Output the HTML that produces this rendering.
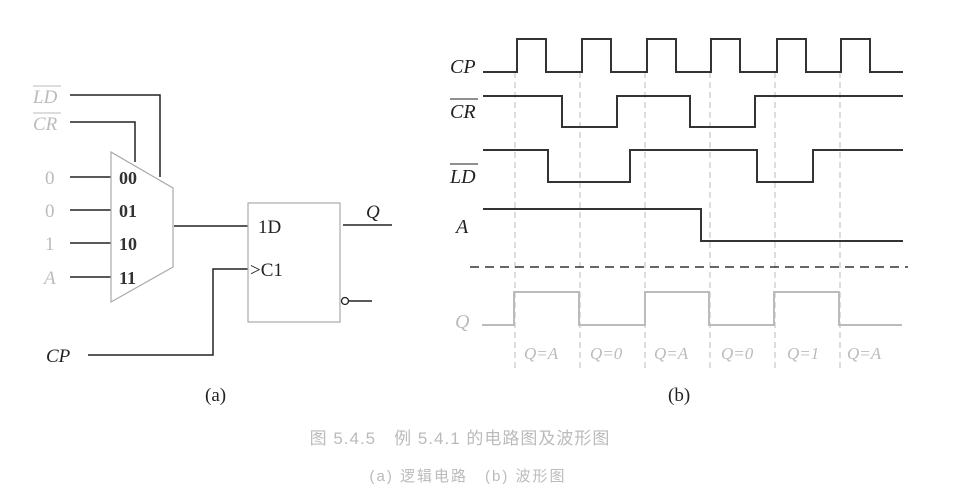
<!DOCTYPE html>
<html><head><meta charset="utf-8"><style>
html,body{margin:0;padding:0;background:#fff;}
svg{display:block;font-family:"Liberation Serif","Noto Serif CJK SC",serif;}
</style></head><body>
<svg width="954" height="502" viewBox="0 0 954 502" xmlns="http://www.w3.org/2000/svg">
<g fill="none" stroke="#222" stroke-width="1.5">
<polyline points="70,95 160,95 160,177"/>
<polyline points="70,122 135,122 135,162"/>
<line x1="70" y1="177" x2="111" y2="177"/>
<line x1="70" y1="210" x2="111" y2="210"/>
<line x1="70" y1="243" x2="111" y2="243"/>
<line x1="70" y1="277" x2="111" y2="277"/>
<line x1="174" y1="226" x2="248" y2="226"/>
<line x1="343" y1="225" x2="392" y2="225"/>
<line x1="349" y1="301" x2="372" y2="301"/>
<polyline points="88,355 213,355 213,269 248,269"/>
</g>
<polygon points="111,152 173,188 173,267 111,302" fill="none" stroke="#aaa" stroke-width="1.2"/>
<rect x="248" y="203" width="92" height="119" fill="none" stroke="#aaa" stroke-width="1.2"/>
<circle cx="345" cy="301" r="3.5" fill="#fff" stroke="#222" stroke-width="1.3"/>
<g font-size="19" fill="#bbb" font-style="italic">
<text x="33" y="103">LD</text><line x1="33" y1="86" x2="61" y2="86" stroke="#bbb"/>
<text x="33" y="130">CR</text><line x1="33" y1="113" x2="61" y2="113" stroke="#bbb"/>
<text x="45" y="184" font-style="normal">0</text>
<text x="45" y="217" font-style="normal">0</text>
<text x="45" y="250" font-style="normal">1</text>
<text x="44" y="284">A</text>
</g>
<g font-size="18" font-weight="bold" fill="#333">
<text x="119" y="184">00</text><text x="119" y="217">01</text><text x="119" y="250">10</text><text x="119" y="284">11</text>
</g>
<g font-size="19" fill="#222">
<text x="258" y="233">1D</text>
<text x="250" y="276">&gt;C1</text>
<text x="366" y="218" font-style="italic">Q</text>
<text x="46" y="362" font-style="italic">CP</text>
<text x="205" y="401">(a)</text>
<text x="668" y="401">(b)</text>
</g>
<g stroke="#bbb" stroke-width="1" stroke-dasharray="6,4">
<line x1="515" y1="72" x2="515" y2="372"/><line x1="580" y1="72" x2="580" y2="372"/>
<line x1="645" y1="72" x2="645" y2="372"/><line x1="710" y1="72" x2="710" y2="372"/>
<line x1="775" y1="72" x2="775" y2="372"/><line x1="840" y1="72" x2="840" y2="372"/>
</g>
<g fill="none" stroke="#333" stroke-width="2">
<polyline points="483,72 517,72 517,39 546,39 546,72 582,72 582,39 611,39 611,72 647,72 647,39 676,39 676,72 711,72 711,39 740,39 740,72 777,72 777,39 806,39 806,72 841,72 841,39 870,39 870,72 903,72"/>
<polyline points="483,96 562,96 562,127 617,127 617,96 690,96 690,127 755,127 755,96 903,96"/>
<polyline points="483,150 548,150 548,182 630,182 630,150 757,150 757,182 813,182 813,150 903,150"/>
<polyline points="483,209 701,209 701,241 903,241"/>
</g>
<line x1="470" y1="267" x2="908" y2="267" stroke="#333" stroke-width="1.5" stroke-dasharray="9,6"/>
<polyline points="482,325 514,325 514,292 579,292 579,325 645,325 645,292 709,292 709,325 774,325 774,292 839,292 839,325 902,325" fill="none" stroke="#bbb" stroke-width="2"/>
<g font-size="20" font-style="italic" fill="#222">
<text x="450" y="73">CP</text>
<text x="450" y="118">CR</text><line x1="450" y1="99" x2="478" y2="99" stroke="#222"/>
<text x="450" y="183">LD</text><line x1="450" y1="164" x2="478" y2="164" stroke="#222"/>
<text x="456" y="233">A</text>
<text x="455" y="328" fill="#bbb">Q</text>
</g>
<g font-size="17" font-style="italic" fill="#bbb">
<text x="524" y="359">Q=A</text><text x="590" y="359">Q=0</text><text x="654" y="359">Q=A</text>
<text x="721" y="359">Q=0</text><text x="787" y="359">Q=1</text><text x="847" y="359">Q=A</text>
</g>
<g fill="#bbb" font-family="Liberation Sans,'Noto Sans CJK SC',sans-serif">
<text x="460" y="444" font-size="17" text-anchor="middle" letter-spacing="1">图 5.4.5　例 5.4.1 的电路图及波形图</text>
<text x="468" y="481" font-size="15" text-anchor="middle" letter-spacing="2">(a) 逻辑电路　(b) 波形图</text>
</g>
</svg>
</body></html>
